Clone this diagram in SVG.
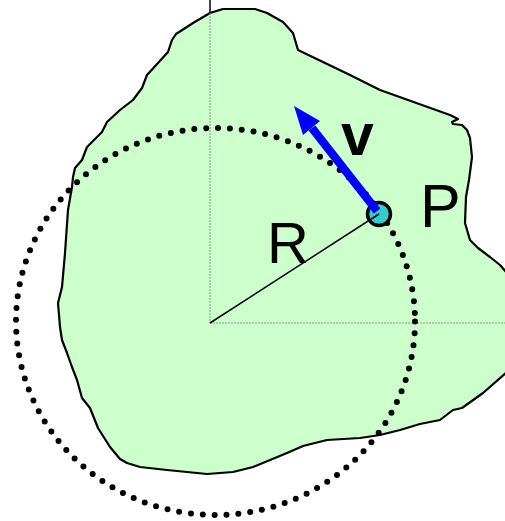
<svg xmlns="http://www.w3.org/2000/svg" width="505" height="521" viewBox="0 0 505 521">
<style>
.lbl{font-family:"Liberation Sans",Arial,sans-serif;fill:#000}
.axis{stroke:#8a9a8a;stroke-width:1;stroke-dasharray:2 1;fill:none}
</style>
<rect width="505" height="521" fill="#fff"/>
<g id="region">
<path d="M210,13 L223,9 L255,9 L267,13 L283,22 L293,33 L298,50 L350,75 L380,90 L450,115 L458,119 L452,122 L453,124 L462,125 L467,130 L470,138 L472,157 L469,180 L466,197 L465,223 L470,240 L478,248 L490,257 L500,265 L507,273 L520,320 L507,372 L483,393 L462,408 L453,410 L440,420 L420,424 L400,430 L380,435 L360,438 L327,440 L303,446 L287,453 L253,467 L233,472 L207,474 L167,470 L140,467 L127,463 L120,459 L110,447 L98,428 L90,408 L82,398 L77,380 L72,367 L67,353 L62,340 L60,327 L58,303 L62,287 L65,253 L68,210 L72,187 L73,177 L75,168 L82,160 L87,147 L102,132 L107,122 L120,110 L133,100 L142,88 L147,75 L158,63 L168,52 L172,40 L176,34 L193,23 Z" fill="#ccffcc" stroke="#000" stroke-width="2.2" stroke-linejoin="round"/>
</g>
<g id="axes">
<line x1="210" y1="0" x2="210" y2="13" stroke="#000" stroke-width="1.5"/>
<line class="axis" x1="210" y1="13" x2="210" y2="323"/>
<line class="axis" x1="210" y1="323" x2="505" y2="323"/>
</g>
<g id="orbit">
<ellipse cx="215.5" cy="321.5" rx="199.5" ry="193.5" fill="none" stroke="#000" stroke-width="6" stroke-linecap="round" stroke-dasharray="0 11.9"/>
</g>
<g id="point-P">
<circle cx="379" cy="214" r="11.5" fill="#33cccc" stroke="#000" stroke-width="3.5"/>
</g>
<g id="connectors">
<line id="radius" x1="210" y1="323" x2="379" y2="214" stroke="#000" stroke-width="1.5"/>
<line id="velocity" x1="377" y1="211" x2="312" y2="128" stroke="#0000ff" stroke-width="8.5"/>
<polygon points="294,106 320,121 303,135" fill="#0000ff"/>
</g>
<g id="labels">
<text class="lbl" x="341" y="155" font-size="59" font-weight="bold">v</text>
<text class="lbl" x="420" y="227" font-size="61">P</text>
<text class="lbl" x="267" y="263" font-size="58">R</text>
</g>
</svg>
